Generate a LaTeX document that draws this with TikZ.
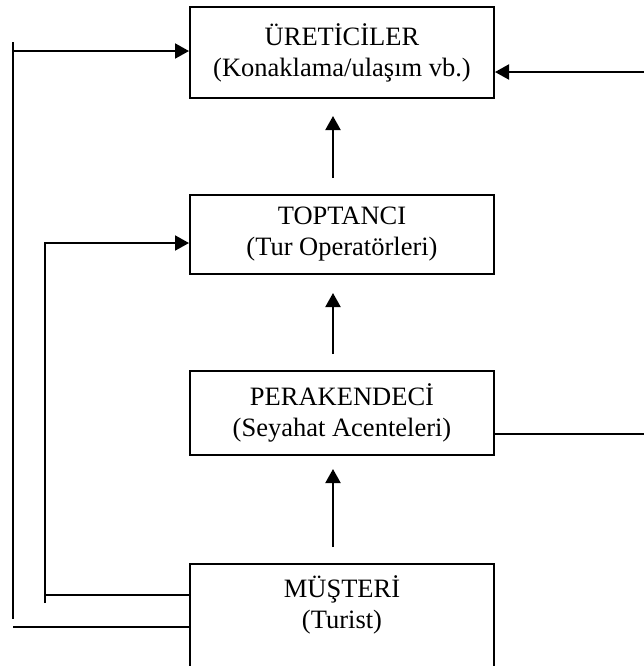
\documentclass[tikz,border=0pt]{standalone}
\usepackage{fontspec}
\setmainfont{Liberation Serif}
\usepackage{tikz}
\usetikzlibrary{positioning, arrows.meta, calc}

\begin{document}
\begin{tikzpicture}[x=0.5pt, y=-0.5pt,
    stagebox/.style={draw, line width=1pt, minimum width=152pt, inner sep=0pt,
      align=center, font=\fontsize{13.25}{15.5}\selectfont},
    flow/.style={line width=1pt, -{Triangle[length=7pt, width=7.5pt]}},
    link/.style={line width=1pt}]
  \useasboundingbox (0,0) rectangle (644,666);
  \clip (0,0) rectangle (644,666);

  \node[stagebox, minimum height=45.5pt] (ure) at (342,52.5) {ÜRETİCİLER\\(Konaklama/ulaşım vb.)};
  \node[stagebox, minimum height=39.5pt] (top) at (342,234.5) {TOPTANCI\\(Tur Operatörleri)};
  \node[stagebox, minimum height=42pt] (per) at (342,413) {PERAKENDECİ\\(Seyahat Acenteleri)};
  \node[stagebox, anchor=north, inner ysep=6pt] (mus) at (342,563) {MÜŞTERİ\\(Turist)\\[30pt]\mbox{}};

  % main chain
  \draw[flow] ($(top.north)+(-9,-16)$) -- ($(ure.south)+(-9,17)$);
  \draw[flow] ($(per.north)+(-9,-16)$) -- ($(top.south)+(-9,18)$);
  \draw[flow] ($(mus.north)+(-9,-16)$) -- ($(per.south)+(-9,13)$);

  % outer line on the left
  \coordinate (lt) at (13,42);
  \coordinate (lb) at (13,619);
  \coordinate (l1) at (13,51);
  \coordinate (l2) at (13,627);
  \draw[link] (lt) -- (lb);
  \draw[flow] (l1) -- (l1 -| ure.west);
  \draw[link] (l2) -- (l2 -| mus.west);

  % inner line on the left
  \coordinate (i1) at (45,243);
  \coordinate (i2) at (45,603);
  \coordinate (i3) at (45,595);
  \draw[flow] (i2) -- (i1) -- (i1 -| top.west);
  \draw[link] (i3) -- (i3 -| mus.west);

  % right side
  \coordinate (r1) at (644,72);
  \coordinate (r2) at (644,434);
  \draw[flow] (r1) -- (r1 -| ure.east);
  \draw[link] (per.east |- r2) -- (r2);
\end{tikzpicture}
\end{document}
